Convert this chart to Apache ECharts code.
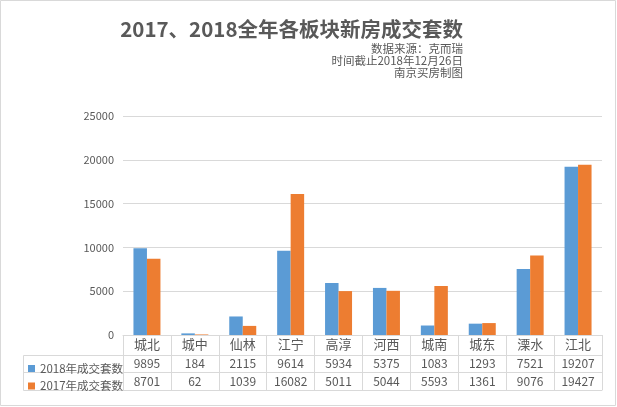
<!DOCTYPE html>
<html>
<head>
<meta charset="utf-8">
<script src="https://cdn.jsdelivr.net/npm/echarts@6/dist/echarts.min.js"></script>
<style>
html,body{margin:0;padding:0;background:#fff;}
#chart{width:617px;height:407px;}
</style>
</head>
<body>
<div id="chart"></div>
<script>
const categories = ['城北','城中','仙林','江宁','高淳','河西','城南','城东','溧水','江北'];
const sales2018 = [9895,184,2115,9614,5934,5375,1083,1293,7521,19207];
const sales2017 = [8701,62,1039,16082,5011,5044,5593,1361,9076,19427];
const seriesNames = ['2018年成交套数','2017年成交套数'];
const yTicks = {min:0, max:25000, interval:5000};
const titleText = '2017、2018全年各板块新房成交套数';
const noteLines = ['数据来源：克而瑞','时间截止2018年12月26日','南京买房制图'];

const FONT = '"Noto Sans CJK SC", "Noto Sans", sans-serif';
const TXT = '#595959';
const LINE = '#d9d9d9';

const chart = echarts.init(document.getElementById('chart'), null, {renderer:'canvas'});

function tableAxis(offset, tickLen, labels, fontSize, margin) {
  return {
    type:'category', gridIndex:0, position:'bottom', offset: offset,
    data: categories,
    axisLine:{show:true, lineStyle:{color:LINE, width:1}},
    axisTick:{show: tickLen > 0, length: tickLen, interval:0, lineStyle:{color:LINE, width:1}},
    axisLabel:{show: !!labels, interval:0, margin: margin, color:TXT, fontSize: fontSize, fontFamily: FONT,
      formatter: labels ? function(v, i){ return String(labels[i]); } : ''},
    splitLine:{show:false}
  };
}

const titles = [{
  text: titleText, right:154, top:19, padding:0,
  textStyle:{fontSize:20.5, fontWeight:'bold', color:TXT, fontFamily:FONT}
}];
noteLines.forEach(function(s, i){
  titles.push({
    text: s, right:154, top: 43 + i*12, padding:0,
    textStyle:{fontSize:11.5, fontWeight:'normal', color:TXT, lineHeight:12, fontFamily:FONT}
  });
});

const option = {
  animation:false,
  backgroundColor:'#fff',
  textStyle:{fontFamily:FONT},
  title: titles,
  legend:{
    orient:'vertical', left:23, top:356.5, itemWidth:7, itemHeight:7, itemGap:3.5,
    icon:'rect', selectedMode:false,
    textStyle:{fontSize:11.5, color:TXT, lineHeight:14, fontFamily:FONT},
    data: seriesNames
  },
  grid:{left:123, right:15, top:116, bottom:72, containLabel:false},
  xAxis:[
    tableAxis(0, 20, categories, 13, 3),
    tableAxis(20, 17, sales2018, 12, 2.5),
    tableAxis(37, 18, sales2017, 12, 3),
    tableAxis(55, 0, null, 12, 0)
  ],
  yAxis:{
    type:'value', min:yTicks.min, max:yTicks.max, interval:yTicks.interval,
    axisLine:{show:false}, axisTick:{show:false},
    axisLabel:{color:TXT, fontSize:11, margin:9, fontFamily:FONT, formatter:function(v){return String(v);}},
    splitLine:{lineStyle:{color:LINE, width:1}}
  },
  series:[
    {name:seriesNames[0], type:'bar', xAxisIndex:0, data:sales2018, barWidth:13.5, barGap:'0%',
      itemStyle:{color:'#5B9BD5'}},
    {name:seriesNames[1], type:'bar', xAxisIndex:0, data:sales2017, barWidth:13.5, barGap:'0%',
      itemStyle:{color:'#ED7D31'}}
  ],
  graphic:[
    {type:'rect', shape:{x:0.5, y:0.5, width:615, height:405}, style:{fill:'none', stroke:LINE, lineWidth:1}, silent:true},
    {type:'line', shape:{x1:23.5, y1:355.5, x2:123, y2:355.5}, style:{stroke:LINE, lineWidth:1}, silent:true},
    {type:'line', shape:{x1:23.5, y1:372.5, x2:123, y2:372.5}, style:{stroke:LINE, lineWidth:1}, silent:true},
    {type:'line', shape:{x1:23.5, y1:390.5, x2:123, y2:390.5}, style:{stroke:LINE, lineWidth:1}, silent:true},
    {type:'line', shape:{x1:23.5, y1:355.5, x2:23.5, y2:390.5}, style:{stroke:LINE, lineWidth:1}, silent:true}
  ]
};
chart.setOption(option);
</script>
</body>
</html>
